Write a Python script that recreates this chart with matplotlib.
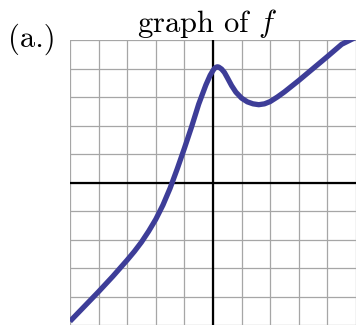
import matplotlib
matplotlib.use("Agg")
import matplotlib.pyplot as plt

plt.rcParams['mathtext.fontset'] = 'cm'

x_vals = [-5.0, -4.5, -4.0, -3.5, -3.0, -2.75, -2.5, -2.25, -2.0, -1.75, -1.5,
          -1.25, -1.0, -0.75, -0.5, -0.25, -0.1, 0.0, 0.05, 0.1, 0.15, 0.2, 0.3, 0.4,
          0.5, 0.65, 0.8, 1.0, 1.2, 1.4, 1.6, 1.8, 2.0, 2.25, 2.5, 2.75, 3.0, 3.5,
          4.0, 4.5, 5.0]
y_vals = [-4.87, -4.35, -3.83, -3.29, -2.72, -2.42, -2.09, -1.71, -1.29, -0.79, -0.2,
          0.48, 1.2, 1.95, 2.75, 3.42, 3.76, 3.93, 4.0, 4.04, 4.06, 4.05, 3.98, 3.86,
          3.68, 3.4, 3.17, 2.96, 2.83, 2.76, 2.73, 2.76, 2.84, 3.0, 3.18, 3.38, 3.58, 4.0,
          4.42, 4.85, 5.1]
grid_ticks = [-5, -4, -3, -2, -1, 0, 1, 2, 3, 4, 5]
title_text = "graph of $f$"
label_text = "(a.)"

fig = plt.figure(figsize=(3.57, 3.27), dpi=100)
ax = fig.add_axes([70/357, 2/327, 286/357, 285/327])
ax.set_xlim(-5, 5)
ax.set_ylim(-5, 5)
for t in grid_ticks:
    ax.axvline(t, color='#a6a6a6', lw=0.9, zorder=1)
    ax.axhline(t, color='#a6a6a6', lw=0.9, zorder=1)
ax.axvline(0, color='black', lw=1.6, zorder=2)
ax.axhline(0, color='black', lw=1.6, zorder=2)
ax.plot(x_vals, y_vals, color='#3d3d98', lw=3.8, solid_capstyle='butt',
        solid_joinstyle='round', zorder=3)
ax.set_xticks([])
ax.set_yticks([])
for s in ax.spines.values():
    s.set_visible(False)

fig.text(207/357, 1 - 32/327, title_text, family='cmr10', fontsize=22,
         ha='center', va='baseline')
fig.text(8/357, 1 - 47/327, label_text, family='cmr10', fontsize=22,
         ha='left', va='baseline')
fig.savefig('out.png', dpi=100)
